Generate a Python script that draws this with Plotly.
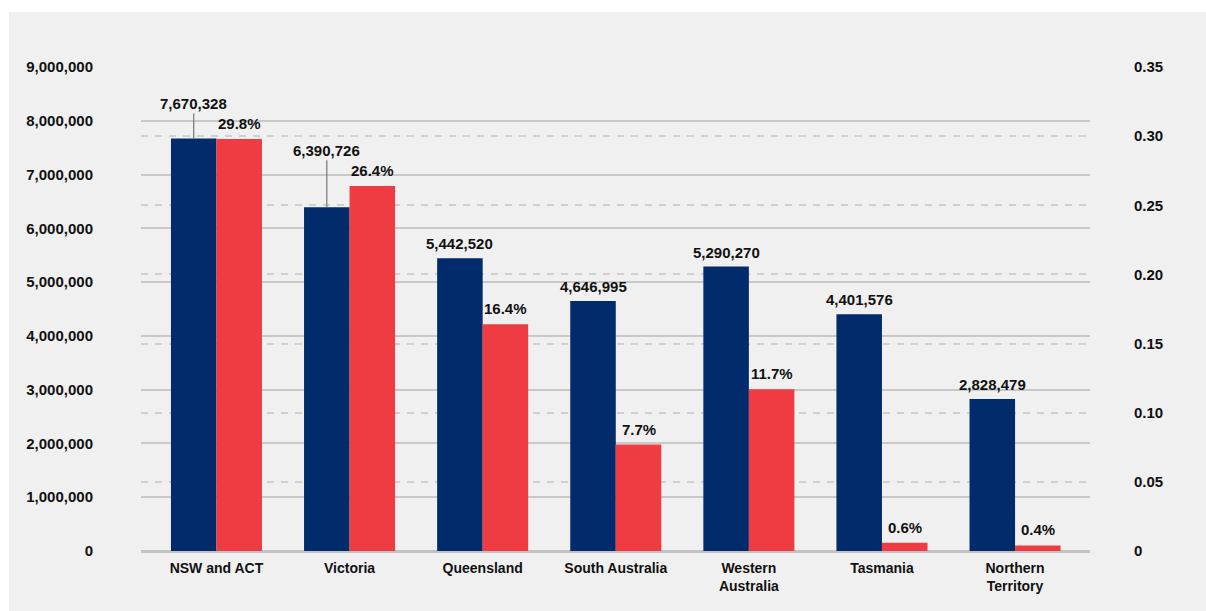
import plotly.graph_objects as go

# Data
regions = ["NSW and ACT", "Victoria", "Queensland", "South Australia",
           "Western<br>Australia", "Tasmania", "Northern<br>Territory"]
population = [7670328, 6390726, 5442520, 4646995, 5290270, 4401576, 2828479]
share = [0.298, 0.264, 0.164, 0.077, 0.117, 0.006, 0.004]

left_ticks = [0, 1000000, 2000000, 3000000, 4000000, 5000000, 6000000, 7000000, 8000000, 9000000]
right_ticks = [0, 0.05, 0.10, 0.15, 0.20, 0.25, 0.30, 0.35]
right_tick_text = ["0", "0.05", "0.10", "0.15", "0.20", "0.25", "0.30", "0.35"]

NAVY = "#012b6a"
RED = "#ef3b42"
FONT = "Liberation Sans, Arial, Helvetica, sans-serif"
TXT = "#111111"

W, H = 1206, 611
ML, MR, MT, MB = 141, 116, 67, 60
PW, PH = W - ML - MR, H - MT - MB

BARGAP = 0.316
half = (1 - BARGAP) / 2 / 2  # offset from category centre to each bar centre

fig = go.Figure()
fig.add_trace(go.Bar(x=regions, y=population, marker_color=NAVY, marker_line_width=0,
                     offsetgroup="pop", yaxis="y", name="Population"))
fig.add_trace(go.Bar(x=regions, y=share, marker_color=RED, marker_line_width=0,
                     offsetgroup="share", yaxis="y2", name="Share"))

# leader-line offsets (px) for labels lifted clear of neighbouring text
leader = {0: -35, 1: -57}

annotations = []
for i, (p, s) in enumerate(zip(population, share)):
    label = f"{p:,}"
    if i in leader:
        annotations.append(dict(
            x=i - half, y=p, xref="x", yref="y", text=f"<b>{label}</b>",
            showarrow=True, arrowhead=0, arrowwidth=1.2, arrowcolor="#777777",
            ax=0, ay=leader[i], standoff=0,
            font=dict(family=FONT, size=15, color=TXT)))
    else:
        annotations.append(dict(
            x=i - half, y=p, xref="x", yref="y", text=f"<b>{label}</b>",
            showarrow=False, yanchor="bottom", yshift=4,
            font=dict(family=FONT, size=15, color=TXT)))
    annotations.append(dict(
        x=i + half, y=s, xref="x", yref="y2", text=f"<b>{s * 100:.1f}%</b>",
        showarrow=False, yanchor="bottom", yshift=5,
        font=dict(family=FONT, size=15, color=TXT)))

# grey panel behind the chart
panel = dict(type="rect", xref="paper", yref="paper", layer="below",
             x0=(9 - ML) / PW, x1=(W - ML) / PW + 0.01,
             y0=-(MB + 5) / PH, y1=1 + (MT - 12) / PH,
             fillcolor="#f0f0f0", line=dict(width=0))

fig.update_layout(
    width=W, height=H,
    margin=dict(l=ML, r=MR, t=MT, b=MB, pad=0),
    paper_bgcolor="white", plot_bgcolor="rgba(0,0,0,0)",
    barmode="group", bargap=BARGAP, bargroupgap=0,
    showlegend=False,
    shapes=[panel],
    annotations=annotations,
    font=dict(family=FONT, size=15, color=TXT),
    xaxis=dict(type="category", range=[-0.567, 6.563], showgrid=False,
               showline=False, zeroline=False, ticks="",
               ticklabelstandoff=7,
               tickfont=dict(family=FONT, size=14, color=TXT, weight="bold")),
    yaxis=dict(range=[0, 9000000], tickvals=left_ticks, tickformat=",d",
               showgrid=True, gridcolor="#c8c8c8", gridwidth=1.5,
               zeroline=True, zerolinecolor="#c2c2c2", zerolinewidth=2.5,
               showline=False, ticks="", ticklabelstandoff=47,
               tickfont=dict(family=FONT, size=15, color=TXT, weight="bold")),
    yaxis2=dict(range=[0, 0.35], overlaying="y", side="right",
                tickvals=right_ticks, ticktext=right_tick_text,
                showgrid=True, gridcolor="#d0d0d0", gridwidth=1.5, griddash="7px,7px",
                zeroline=False, showline=False, ticks="", ticklabelstandoff=43,
                tickfont=dict(family=FONT, size=15, color=TXT, weight="bold")),
)

fig.write_html("out.html")
